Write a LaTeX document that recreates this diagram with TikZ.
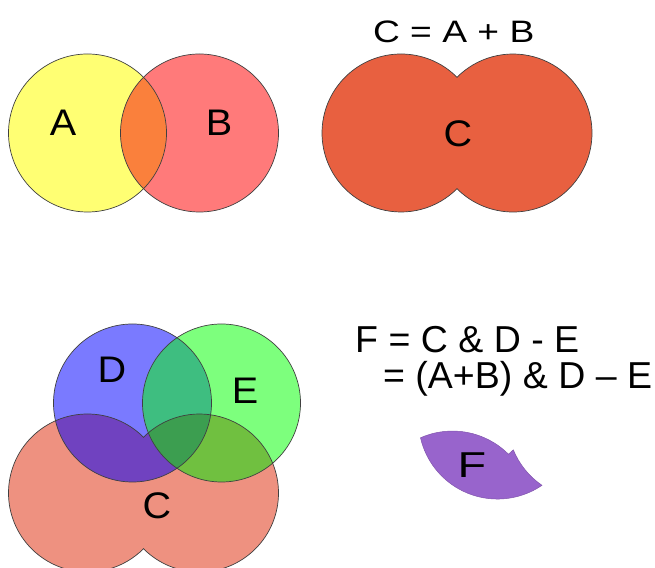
\documentclass[tikz,border=0pt]{standalone}
\usepackage{fontspec}
\setmainfont{Liberation Sans}
\definecolor{yellowA}{RGB}{255,255,115}
\definecolor{redB}{RGB}{255,122,122}
\definecolor{orangeAB}{RGB}{250,128,60}
\definecolor{Ctop}{RGB}{232,96,64}
\definecolor{Clow}{RGB}{238,145,128}
\definecolor{Dblue}{RGB}{122,122,255}
\definecolor{Egreen}{RGB}{125,255,125}
\definecolor{DEcol}{RGB}{62,190,128}
\definecolor{DCcol}{RGB}{112,66,192}
\definecolor{ECcol}{RGB}{112,192,64}
\definecolor{DECcol}{RGB}{60,158,80}
\definecolor{Fcol}{RGB}{152,100,204}
\begin{document}
\begin{tikzpicture}[x=1pt,y=1pt,
  outl/.style={draw=black!75, line width=0.7pt},
  lbl/.style={font=\fontsize{37}{40}\selectfont, inner sep=0pt, xscale=1.07},
  eqn/.style={font=\fontsize{37.5}{40}\selectfont, inner sep=0pt, anchor=base west}]
\useasboundingbox (0,0) rectangle (655,567);
% ---------- top left: A and B
\fill[yellowA] (87.5,434) circle[radius=79];
\fill[redB] (199.5,434) circle[radius=79];
\begin{scope}
  \clip (87.5,434) circle[radius=79];
  \fill[orangeAB] (199.5,434) circle[radius=79];
\end{scope}
\draw[outl] (87.5,434) circle[radius=79];
\draw[outl] (199.5,434) circle[radius=79];
\node[lbl] (lA) at (63,444) {A};
\node[lbl] (lB) at (219,444) {B};
% ---------- top right: C = A + B
\path[fill=Ctop, outl] (457,489.72)
  arc[start angle=44.86, end angle=315.14, radius=79]
  arc[start angle=-135.14, end angle=135.14, radius=79] -- cycle;
\node[lbl] (lC) at (458,433) {C};
\node[font=\fontsize{31}{34}\selectfont, inner sep=0pt, xscale=1.2] (eqC) at (453.7,535) {C = A + B};
% ---------- bottom left: C, D, E
\fill[Clow] (87.5,74) circle[radius=79] (199.5,74) circle[radius=79];
\fill[Dblue] (132.5,164) circle[radius=79];
\fill[Egreen] (221.5,164) circle[radius=79];
\begin{scope}
  \clip (221.5,164) circle[radius=79];
  \fill[ECcol] (87.5,74) circle[radius=79] (199.5,74) circle[radius=79];
\end{scope}
\begin{scope}
  \clip (132.5,164) circle[radius=79];
  \fill[DCcol] (87.5,74) circle[radius=79] (199.5,74) circle[radius=79];
  \fill[DEcol] (221.5,164) circle[radius=79];
\end{scope}
\begin{scope}
  \clip (132.5,164) circle[radius=79];
  \clip (221.5,164) circle[radius=79];
  \fill[DECcol] (87.5,74) circle[radius=79] (199.5,74) circle[radius=79];
\end{scope}
\path[outl] (143.5,129.72)
  arc[start angle=44.86, end angle=315.14, radius=79]
  arc[start angle=-135.14, end angle=135.14, radius=79] -- cycle;
\draw[outl] (132.5,164) circle[radius=79];
\draw[outl] (221.5,164) circle[radius=79];
\node[lbl] (lD) at (112,197) {D};
\node[lbl] (lE) at (245,176) {E};
\node[lbl] (lC2) at (157,61) {C};
% ---------- bottom right: F
\node[eqn] (eq1) at (355,214) {F = C \& D - E};
\node[eqn] (eq2) at (383,178) {= (A+B) \& D – E};
\path[fill=Fcol, draw=Fcol!85!black, line width=0.5pt, shift={(365,-17)}] (55.5,146.2)
  arc[start angle=113.9, end angle=44.86, radius=79]
  arc[start angle=135.14, end angle=130.38, radius=79]
  arc[start angle=202.15, end angle=235.71, radius=79]
  arc[start angle=304.29, end angle=193.02, radius=79] -- cycle;
\node[font=\fontsize{36}{40}\selectfont, inner sep=0pt, xscale=1.3] (lF) at (472,102) {F};
\end{tikzpicture}
\end{document}
